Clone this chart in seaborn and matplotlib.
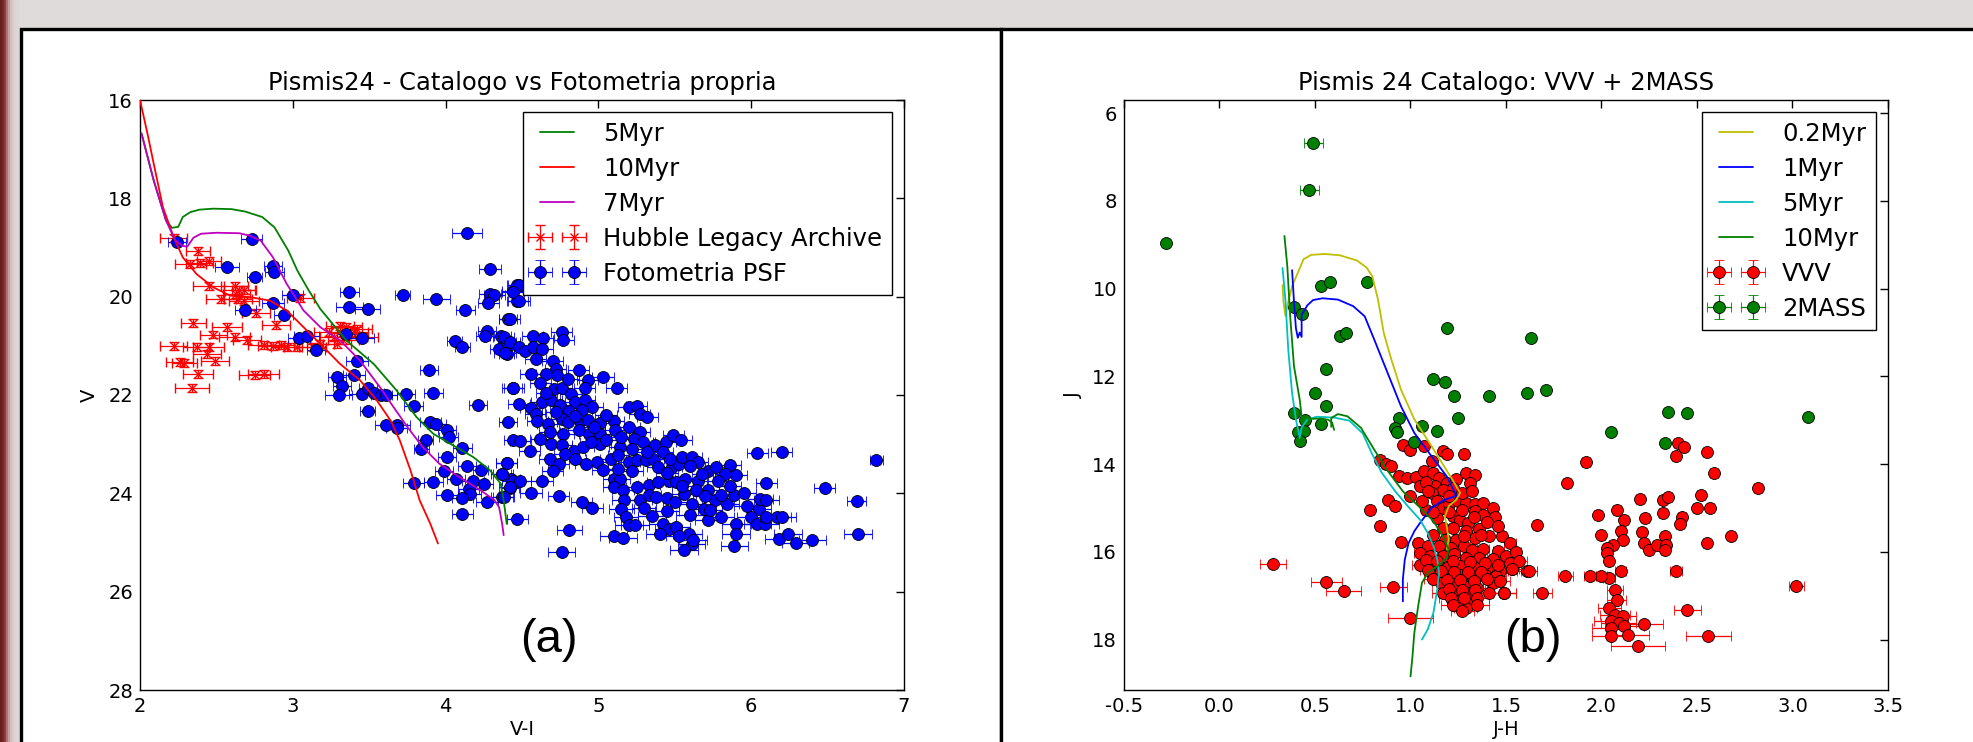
import numpy as np
import pandas as pd
import matplotlib
matplotlib.use("Agg")
import matplotlib.pyplot as plt
from matplotlib.patches import Rectangle
import seaborn as sns

# ---------------- data ----------------
# Left panel: isochrones (V-I, V)
iso5_left = [(2.01, 16.68), (2.09, 17.64), (2.17, 18.45), (2.21, 18.60), (2.25, 18.58), (2.28, 18.38),
             (2.33, 18.28), (2.39, 18.23), (2.48, 18.21), (2.60, 18.22), (2.69, 18.27), (2.80, 18.38),
             (2.88, 18.59), (2.97, 19.06), (3.03, 19.47), (3.10, 19.85), (3.18, 20.25), (3.35, 20.89),
             (3.53, 21.37), (3.68, 21.91), (3.81, 22.45), (3.92, 22.79), (4.03, 22.99), (4.18, 23.26),
             (4.29, 23.53), (4.36, 23.80), (4.38, 24.14), (4.40, 24.62)]
iso10_left = [(2.00, 16.00), (2.05, 16.70), (2.09, 17.30), (2.15, 18.18), (2.22, 18.79), (2.28, 19.20),
              (2.37, 19.54), (2.48, 19.81), (2.59, 19.98), (2.72, 20.01), (2.85, 20.08), (2.96, 20.28),
              (3.07, 20.62), (3.18, 20.96), (3.31, 21.37), (3.44, 21.70), (3.55, 22.11), (3.64, 22.52),
              (3.70, 22.92), (3.77, 23.53), (3.83, 24.14), (3.90, 24.62), (3.95, 25.02)]
iso7_left = [(2.01, 16.68), (2.09, 17.64), (2.17, 18.45), (2.23, 18.85), (2.28, 18.97), (2.31, 18.98),
             (2.35, 18.80), (2.40, 18.72), (2.50, 18.70), (2.65, 18.71), (2.72, 18.76), (2.79, 18.86),
             (2.87, 19.20), (2.96, 19.74), (3.07, 20.28), (3.18, 20.62), (3.31, 20.89), (3.44, 21.30),
             (3.57, 21.84), (3.66, 22.25), (3.75, 22.65), (3.85, 23.06), (3.96, 23.40), (4.09, 23.67),
             (4.23, 23.94), (4.32, 24.14), (4.35, 24.28), (4.37, 24.62), (4.38, 24.85)]

# Hubble Legacy Archive (V-I, V, err V-I)
hla_points = [(2.22, 18.80, 0.09), (2.38, 19.07, 0.08), (2.33, 19.33, 0.10), (2.39, 19.32, 0.09),
              (2.45, 19.28, 0.08), (2.45, 19.79, 0.10), (2.62, 19.79, 0.09), (2.65, 19.86, 0.10),
              (2.63, 19.94, 0.09), (2.68, 19.87, 0.08), (2.53, 20.04, 0.10), (2.64, 20.04, 0.09),
              (2.68, 20.08, 0.10), (2.76, 20.33, 0.09), (2.89, 20.57, 0.09), (3.05, 20.02, 0.09),
              (2.35, 20.54, 0.08), (2.57, 20.61, 0.10), (2.48, 20.77, 0.09), (2.62, 20.82, 0.10),
              (2.70, 20.88, 0.09), (2.22, 21.01, 0.09), (2.37, 21.03, 0.09), (2.45, 21.03, 0.10),
              (2.44, 21.16, 0.09), (2.81, 20.99, 0.10), (2.87, 21.01, 0.10), (2.92, 20.99, 0.09),
              (2.96, 21.03, 0.10), (3.03, 21.03, 0.09), (2.26, 21.33, 0.09), (2.29, 21.35, 0.08),
              (2.49, 21.30, 0.09), (2.38, 21.58, 0.10), (2.75, 21.60, 0.10), (2.81, 21.58, 0.10),
              (2.34, 21.85, 0.11), (3.31, 20.59, 0.09), (3.35, 20.62, 0.10), (3.42, 20.65, 0.10),
              (3.27, 20.82, 0.09), (3.46, 20.82, 0.10), (3.29, 20.96, 0.09), (3.40, 20.72, 0.09),
              (3.24, 20.72, 0.10), (3.33, 20.89, 0.10), (3.18, 20.96, 0.09), (3.13, 21.03, 0.09)]

# Fotometria PSF (V-I, V, err V-I)
psf_points = [
    (2.24, 18.89, 0.06), (2.73, 18.82, 0.07), (2.57, 19.39, 0.08), (2.75, 19.59, 0.05), (2.87, 19.37, 0.06),
    (2.88, 19.50, 0.06), (3.00, 19.96, 0.07), (2.87, 20.13, 0.07), (2.69, 20.28, 0.07), (2.94, 20.38, 0.06),
    (3.37, 19.91, 0.06), (3.37, 20.21, 0.09), (3.49, 20.25, 0.08), (3.72, 19.96, 0.05), (3.94, 20.04, 0.09),
    (4.14, 18.71, 0.10), (4.29, 19.43, 0.07), (4.13, 20.28, 0.06), (3.04, 20.84, 0.07), (3.09, 20.81, 0.08),
    (3.15, 21.08, 0.06), (3.35, 20.76, 0.06), (3.45, 20.85, 0.08), (3.42, 21.31, 0.07), (3.29, 21.64, 0.06),
    (3.32, 21.81, 0.06), (3.30, 22.01, 0.09), (3.40, 21.60, 0.07), (3.45, 21.97, 0.08), (3.49, 21.85, 0.06),
    (3.53, 21.96, 0.07), (3.58, 22.01, 0.07), (3.61, 21.99, 0.07), (3.74, 21.97, 0.06), (3.92, 21.96, 0.06),
    (3.49, 22.33, 0.05), (3.89, 21.49, 0.06), (3.79, 22.23, 0.06), (3.61, 22.62, 0.07), (3.68, 22.60, 0.09),
    (3.68, 22.67, 0.07), (3.90, 22.55, 0.07), (3.94, 22.58, 0.06), (4.01, 22.71, 0.06), (4.02, 22.86, 0.06),
    (3.87, 22.92, 0.05), (3.84, 23.09, 0.05), (4.01, 23.26, 0.06), (3.99, 23.55, 0.06), (4.11, 23.07, 0.06),
    (4.14, 23.44, 0.06), (4.23, 23.53, 0.05), (4.07, 23.70, 0.06), (4.18, 23.74, 0.07), (4.15, 23.91, 0.07),
    (4.16, 24.01, 0.07), (4.25, 23.82, 0.06), (3.92, 23.77, 0.06), (3.79, 23.79, 0.07), (4.01, 24.04, 0.07),
    (4.11, 24.09, 0.07), (4.27, 24.18, 0.07), (4.11, 24.43, 0.07), (4.37, 24.08, 0.07), (4.40, 23.38, 0.07),
    (4.37, 23.61, 0.06), (4.42, 23.89, 0.06), (4.43, 23.70, 0.06), (4.47, 24.52, 0.07), (4.21, 22.21, 0.06),
    (4.41, 20.45, 0.06), (4.27, 20.70, 0.06), (4.26, 20.81, 0.06), (4.06, 20.90, 0.05), (4.11, 21.03, 0.05),
    (4.36, 20.81, 0.07), (4.35, 21.06, 0.06), (4.40, 20.93, 0.06), (4.40, 21.16, 0.05), (4.43, 20.96, 0.06),
    (4.44, 21.85, 0.06), (4.41, 22.54, 0.06), (4.44, 22.92, 0.06), (4.29, 19.94, 0.07), (4.32, 19.96, 0.07),
    (4.28, 20.13, 0.07), (4.44, 19.89, 0.07), (4.47, 19.77, 0.07), (4.47, 20.08, 0.07),
    (4.48, 19.77, 0.07), (4.44, 19.91, 0.07), (4.48, 20.09, 0.07), (4.42, 20.46, 0.07), (4.38, 20.82, 0.07),
    (4.42, 20.92, 0.07), (4.48, 21.03, 0.07), (4.39, 21.15, 0.07), (4.52, 21.11, 0.07), (4.57, 20.81, 0.07),
    (4.64, 20.84, 0.07), (4.57, 21.03, 0.07), (4.63, 21.06, 0.07), (4.76, 20.72, 0.07), (4.77, 20.89, 0.07),
    (4.59, 21.26, 0.07), (4.70, 21.30, 0.07), (4.72, 21.47, 0.07), (4.56, 21.57, 0.07), (4.66, 21.58, 0.07),
    (4.73, 21.60, 0.07), (4.62, 21.76, 0.07), (4.71, 21.87, 0.07), (4.76, 21.85, 0.07), (4.87, 21.49, 0.07),
    (4.80, 21.67, 0.07), (4.93, 21.69, 0.07), (4.91, 21.85, 0.07), (5.03, 21.64, 0.07), (5.12, 21.85, 0.07),
    (4.44, 21.85, 0.07), (4.48, 22.19, 0.07), (4.56, 22.26, 0.07), (4.63, 22.14, 0.07), (4.69, 22.10, 0.07),
    (4.75, 22.21, 0.07), (4.82, 21.97, 0.07), (4.85, 22.14, 0.07), (4.91, 22.11, 0.07), (4.96, 22.25, 0.07),
    (4.81, 22.33, 0.07), (4.89, 22.31, 0.07), (4.59, 22.38, 0.07), (4.60, 22.53, 0.07), (4.67, 22.58, 0.07),
    (4.76, 22.48, 0.07), (4.88, 22.53, 0.07), (4.93, 22.50, 0.07), (5.01, 22.57, 0.07), (5.10, 22.53, 0.07),
    (5.20, 22.25, 0.07), (5.25, 22.23, 0.07), (5.27, 22.39, 0.07), (5.32, 22.45, 0.07), (4.68, 22.75, 0.07),
    (4.77, 22.79, 0.07), (4.87, 22.72, 0.07), (4.94, 22.79, 0.07), (5.01, 22.79, 0.07), (5.11, 22.72, 0.07),
    (5.20, 22.65, 0.07), (5.27, 22.75, 0.07), (4.69, 22.99, 0.07), (4.76, 23.02, 0.07), (4.84, 23.13, 0.07),
    (4.90, 23.06, 0.07), (5.01, 22.99, 0.07), (5.05, 22.92, 0.07), (5.14, 23.06, 0.07), (5.23, 22.89, 0.07),
    (5.29, 22.96, 0.07), (5.37, 23.02, 0.07), (5.44, 22.96, 0.07), (5.49, 22.82, 0.07), (5.54, 22.91, 0.07),
    (4.49, 22.94, 0.07), (4.55, 23.14, 0.07), (4.68, 23.30, 0.07), (4.74, 23.40, 0.07), (4.85, 23.30, 0.07),
    (4.92, 23.40, 0.07), (4.99, 23.36, 0.07), (5.08, 23.30, 0.07), (5.13, 23.23, 0.07), (5.20, 23.36, 0.07),
    (5.25, 23.33, 0.07), (5.31, 23.33, 0.07), (5.36, 23.30, 0.07), (4.40, 23.38, 0.07), (5.39, 23.46, 0.07),
    (5.48, 23.46, 0.07), (5.53, 23.40, 0.07), (5.55, 23.26, 0.07), (5.61, 23.27, 0.07), (5.65, 23.36, 0.07),
    (5.72, 23.55, 0.07), (5.77, 23.46, 0.07), (5.86, 23.43, 0.07), (5.90, 23.63, 0.07), (5.83, 23.60, 0.07),
    (6.04, 23.18, 0.07), (6.20, 23.16, 0.07), (6.82, 23.32, 0.04), (4.37, 23.60, 0.07), (4.44, 23.74, 0.07),
    (4.49, 23.74, 0.07), (4.63, 23.74, 0.07), (4.42, 23.88, 0.07), (4.56, 23.99, 0.07), (4.38, 24.07, 0.07),
    (4.74, 24.06, 0.07), (4.89, 24.18, 0.07), (4.96, 24.29, 0.07), (5.10, 23.70, 0.07), (5.14, 23.70, 0.07),
    (5.10, 23.87, 0.07), (5.16, 23.94, 0.07), (5.25, 23.88, 0.07), (5.33, 23.84, 0.07), (5.39, 23.77, 0.07),
    (5.46, 23.74, 0.07), (5.51, 23.77, 0.07), (5.57, 23.70, 0.07), (5.65, 23.74, 0.07), (5.72, 23.94, 0.07),
    (5.64, 23.94, 0.07), (5.17, 24.14, 0.08), (5.27, 24.14, 0.08), (5.33, 24.04, 0.08), (5.38, 24.07, 0.08),
    (5.45, 24.09, 0.08), (5.50, 24.18, 0.08), (5.56, 24.01, 0.08), (5.61, 24.21, 0.08), (5.69, 24.31, 0.08),
    (5.76, 24.14, 0.08), (5.84, 24.21, 0.08), (5.89, 24.04, 0.08), (5.97, 24.26, 0.08), (6.05, 24.31, 0.08),
    (6.06, 24.11, 0.08), (6.10, 24.13, 0.08), (5.15, 24.31, 0.08), (5.18, 24.48, 0.08), (5.20, 24.65, 0.09),
    (5.24, 24.65, 0.09), (5.35, 24.47, 0.09), (5.42, 24.62, 0.09), (5.46, 24.72, 0.09), (5.51, 24.69, 0.09),
    (5.59, 24.82, 0.09), (5.53, 24.87, 0.09), (5.61, 25.04, 0.09), (5.56, 25.16, 0.09), (5.40, 24.83, 0.09),
    (5.72, 24.55, 0.09), (5.80, 24.48, 0.09), (5.90, 24.62, 0.09), (5.90, 24.83, 0.09), (5.89, 25.08, 0.09),
    (6.00, 24.48, 0.09), (6.04, 24.62, 0.09), (6.09, 24.62, 0.09), (6.10, 24.48, 0.09), (6.17, 24.48, 0.09),
    (6.20, 24.49, 0.09), (6.10, 23.79, 0.07), (6.48, 23.90, 0.07), (6.69, 24.16, 0.06), (6.70, 24.83, 0.09),
    (6.18, 24.92, 0.09), (6.24, 24.82, 0.09), (6.29, 25.01, 0.09), (6.40, 24.94, 0.09), (5.10, 24.87, 0.09),
    (5.16, 24.90, 0.09), (4.81, 24.74, 0.08), (4.76, 25.19, 0.09), (5.62, 24.94, 0.09), (5.73, 24.33, 0.08),
    (5.80, 24.04, 0.08),
    (4.66, 21.95, 0.07), (4.72, 22.35, 0.07), (4.80, 22.55, 0.07), (4.85, 22.42, 0.07), (4.97, 22.65, 0.07),
    (5.05, 22.40, 0.07), (5.15, 22.85, 0.07), (5.22, 23.10, 0.07), (5.32, 23.15, 0.07), (5.42, 23.15, 0.07),
    (5.47, 23.30, 0.07), (5.60, 23.45, 0.07), (5.68, 23.60, 0.07), (5.78, 23.75, 0.07), (5.86, 23.85, 0.07),
    (5.95, 24.00, 0.08), (5.03, 23.52, 0.07), (5.13, 23.50, 0.07), (5.22, 23.55, 0.07), (5.45, 23.58, 0.07),
    (5.55, 23.85, 0.07), (5.70, 24.05, 0.08), (5.30, 24.30, 0.08), (5.45, 24.35, 0.08), (5.60, 24.45, 0.09),
    (4.78, 23.20, 0.07), (4.62, 22.90, 0.07), (4.95, 22.95, 0.07), (4.70, 23.55, 0.07)]

# Right panel: isochrones (J-H, J)
iso02_right = [(0.33, 9.92), (0.335, 10.30), (0.345, 10.62), (0.36, 10.30), (0.38, 9.95), (0.41, 9.64),
               (0.44, 9.33), (0.48, 9.23), (0.55, 9.21), (0.63, 9.24), (0.72, 9.36), (0.77, 9.52),
               (0.80, 9.72), (0.83, 10.25), (0.86, 11.01), (0.90, 11.62), (0.95, 12.30), (1.02, 12.98),
               (1.11, 13.59), (1.18, 14.08), (1.23, 14.43), (1.26, 14.66), (1.24, 14.81), (1.20, 14.96),
               (1.18, 15.19), (1.19, 15.42), (1.20, 15.72), (1.19, 15.95)]
iso1_right = [(0.38, 9.58), (0.39, 10.30), (0.40, 10.90), (0.41, 11.12), (0.42, 11.00), (0.43, 11.10),
              (0.43, 10.60), (0.46, 10.38), (0.49, 10.26), (0.54, 10.22), (0.62, 10.25), (0.70, 10.40),
              (0.76, 10.63), (0.81, 11.16), (0.88, 11.92), (0.95, 12.68), (1.02, 13.29), (1.11, 13.82),
              (1.19, 14.28), (1.24, 14.72), (1.17, 14.83), (1.11, 15.00), (1.05, 15.34), (1.02, 15.53),
              (0.99, 15.80), (0.97, 16.18), (0.96, 16.63), (0.96, 17.13)]
iso5_right = [(0.33, 9.53), (0.345, 10.25), (0.36, 11.39), (0.38, 12.38), (0.40, 12.98), (0.42, 13.40),
              (0.43, 13.17), (0.46, 12.98), (0.51, 12.92), (0.60, 12.94), (0.68, 13.01), (0.75, 13.30),
              (0.80, 13.78), (0.85, 14.20), (0.92, 14.62), (0.99, 14.98), (1.05, 15.27), (1.09, 15.57),
              (1.12, 15.87), (1.14, 16.18), (1.15, 16.48), (1.14, 16.86), (1.12, 17.39), (1.09, 17.77),
              (1.06, 18.00)]
iso10_right_a = [(0.34, 8.80), (0.355, 9.49), (0.37, 10.63), (0.39, 11.77), (0.42, 12.53), (0.43, 12.92),
                 (0.47, 12.97), (0.53, 12.96), (0.57, 12.99), (0.59, 13.06), (0.60, 13.22)]
iso10_right_b = [(0.585, 13.15), (0.585, 12.95), (0.62, 12.86), (0.67, 12.91), (0.74, 13.17), (0.81, 13.67),
                 (0.88, 14.15), (0.96, 14.62), (1.04, 14.95), (1.12, 15.30), (1.17, 15.65), (1.20, 15.95),
                 (1.19, 16.14), (1.14, 16.33), (1.09, 16.48), (1.06, 16.71), (1.04, 17.24), (1.02, 17.85),
                 (1.01, 18.40), (1.00, 18.84)]

# VVV (J-H, J, err J-H)
vvv_points = [
    (0.96, 13.56, 0.02), (1.00, 13.69, 0.02), (1.07, 13.58, 0.02), (1.17, 13.71, 0.02), (1.19, 13.76, 0.02),
    (1.28, 13.78, 0.02), (0.84, 13.91, 0.02), (0.87, 13.99, 0.02), (0.90, 14.05, 0.02), (0.94, 14.28, 0.02),
    (0.98, 14.32, 0.02), (1.03, 14.29, 0.02), (1.05, 14.51, 0.02), (1.07, 14.16, 0.02), (1.11, 13.94, 0.02),
    (1.12, 14.20, 0.02), (1.15, 14.32, 0.02), (1.19, 14.43, 0.02), (1.24, 14.35, 0.02), (1.29, 14.20, 0.02),
    (1.34, 14.24, 0.02), (1.31, 14.43, 0.02), (1.13, 14.51, 0.02), (1.17, 14.58, 0.02), (1.00, 14.72, 0.02),
    (1.11, 14.66, 0.02), (0.88, 14.81, 0.02), (0.92, 14.95, 0.02), (0.79, 15.04, 0.02), (0.84, 15.42, 0.02),
    (1.14, 14.85, 0.02), (1.17, 15.00, 0.02), (1.20, 14.92, 0.02), (1.25, 14.85, 0.02), (1.29, 14.89, 0.02),
    (1.34, 14.92, 0.02), (1.38, 14.89, 0.02), (1.43, 15.00, 0.02), (1.34, 15.08, 0.02), (1.44, 15.21, 0.02),
    (1.38, 15.15, 0.02), (1.14, 15.22, 0.02), (1.22, 15.19, 0.02), (1.26, 15.27, 0.02), (1.30, 15.34, 0.02),
    (1.17, 15.46, 0.02), (1.22, 15.46, 0.02), (1.29, 15.53, 0.02), (1.36, 15.48, 0.02), (1.41, 15.65, 0.02),
    (1.48, 15.65, 0.02), (1.34, 15.68, 0.02), (1.18, 15.72, 0.02), (1.24, 15.72, 0.02), (0.95, 15.78, 0.02),
    (1.04, 15.80, 0.02), (1.09, 15.87, 0.03), (1.15, 15.87, 0.03), (1.21, 15.91, 0.03), (1.28, 15.87, 0.03),
    (1.32, 15.95, 0.03), (1.38, 15.94, 0.03), (1.46, 15.99, 0.03), (1.05, 16.03, 0.03), (1.10, 16.10, 0.03),
    (1.17, 16.10, 0.03), (1.23, 16.06, 0.03), (1.29, 16.14, 0.03), (1.36, 16.14, 0.03), (1.43, 16.16, 0.03),
    (1.50, 16.09, 0.03), (1.05, 16.29, 0.04), (1.13, 16.29, 0.04), (1.19, 16.37, 0.04), (1.26, 16.33, 0.04),
    (1.33, 16.34, 0.04), (1.40, 16.37, 0.04), (1.47, 16.44, 0.04), (1.53, 16.39, 0.05), (1.61, 16.44, 0.05),
    (1.12, 16.52, 0.05), (1.19, 16.56, 0.05), (1.26, 16.52, 0.05), (1.32, 16.56, 0.05), (1.39, 16.52, 0.05),
    (1.45, 16.54, 0.05), (1.16, 16.71, 0.05), (1.22, 16.73, 0.05), (1.28, 16.79, 0.05), (1.35, 16.82, 0.05),
    (1.43, 16.71, 0.05), (1.17, 16.95, 0.06), (1.24, 16.98, 0.06), (1.30, 16.95, 0.06), (1.41, 16.94, 0.06),
    (1.49, 16.95, 0.06), (1.25, 17.13, 0.06), (1.31, 17.18, 0.06), (1.29, 17.28, 0.06), (0.56, 16.69, 0.08),
    (0.65, 16.90, 0.09), (0.91, 16.81, 0.07), (1.00, 17.52, 0.12), (0.28, 16.27, 0.07),
    (1.08, 15.05, 0.02), (1.12, 15.10, 0.02), (1.20, 15.10, 0.02), (1.27, 15.05, 0.02), (1.33, 15.20, 0.02),
    (1.40, 15.32, 0.02), (1.46, 15.42, 0.02), (1.37, 15.62, 0.02), (1.28, 15.63, 0.02), (1.12, 15.62, 0.02),
    (1.08, 16.18, 0.03), (1.14, 16.20, 0.03), (1.22, 16.22, 0.03), (1.31, 16.24, 0.03), (1.39, 16.26, 0.04),
    (1.46, 16.29, 0.04), (1.52, 16.25, 0.04), (1.09, 16.42, 0.04), (1.16, 16.44, 0.04), (1.23, 16.45, 0.04),
    (1.30, 16.45, 0.04), (1.37, 16.45, 0.04), (1.12, 16.63, 0.05), (1.19, 16.65, 0.05), (1.26, 16.64, 0.05),
    (1.33, 16.66, 0.05), (1.40, 16.62, 0.05), (1.47, 16.66, 0.05), (1.20, 16.85, 0.05), (1.27, 16.88, 0.05),
    (1.34, 16.88, 0.05), (1.21, 17.05, 0.06), (1.28, 17.05, 0.06), (1.35, 17.05, 0.06), (1.22, 17.22, 0.06),
    (1.35, 17.22, 0.06), (1.27, 17.35, 0.06), (1.52, 15.80, 0.03), (1.55, 16.00, 0.03), (1.57, 16.20, 0.04),
    (1.08, 14.40, 0.02), (1.22, 14.55, 0.02), (1.27, 14.65, 0.02), (1.32, 14.62, 0.02), (1.20, 14.72, 0.02),
    (1.06, 14.85, 0.02), (1.09, 14.62, 0.02),
    (1.92, 13.96, 0.02), (1.82, 14.43, 0.02), (1.66, 15.39, 0.02), (1.98, 15.16, 0.02), (2.00, 15.61, 0.02),
    (2.08, 15.05, 0.02), (2.12, 15.27, 0.02), (2.10, 15.53, 0.02), (2.11, 15.72, 0.02), (2.06, 15.84, 0.02),
    (2.03, 15.91, 0.02), (2.03, 16.03, 0.02), (2.04, 16.22, 0.02), (2.20, 14.79, 0.02), (2.23, 15.24, 0.02),
    (2.21, 15.55, 0.02), (2.22, 15.81, 0.02), (2.25, 15.96, 0.02), (2.29, 15.84, 0.02), (2.32, 14.81, 0.02),
    (2.35, 14.76, 0.02), (2.32, 15.11, 0.02), (2.33, 15.65, 0.02), (2.34, 15.84, 0.02), (2.33, 15.96, 0.02),
    (2.42, 15.20, 0.02), (2.41, 15.36, 0.02), (2.40, 13.52, 0.02), (2.43, 13.62, 0.02), (2.39, 13.82, 0.02),
    (2.55, 13.73, 0.02), (2.59, 14.20, 0.02), (2.52, 14.70, 0.02), (2.50, 15.00, 0.02), (2.57, 15.00, 0.02),
    (2.55, 15.81, 0.02), (2.68, 15.65, 0.02), (2.82, 14.54, 0.02), (3.02, 16.79, 0.04), (2.39, 16.44, 0.03),
    (2.10, 16.44, 0.03), (2.04, 16.60, 0.03), (2.00, 16.54, 0.03), (1.94, 16.54, 0.03), (1.81, 16.56, 0.04),
    (1.62, 16.44, 0.04), (1.53, 16.39, 0.04), (1.49, 16.95, 0.06), (1.69, 16.95, 0.05), (2.07, 16.88, 0.04),
    (2.08, 17.10, 0.05), (2.04, 17.28, 0.06), (2.07, 17.45, 0.08), (2.11, 17.47, 0.07), (2.05, 17.58, 0.09),
    (2.09, 17.62, 0.09), (2.12, 17.70, 0.10), (2.05, 17.73, 0.10), (2.05, 17.93, 0.10), (2.14, 17.89, 0.11),
    (2.22, 17.64, 0.10), (2.19, 18.15, 0.14), (2.45, 17.33, 0.07), (2.56, 17.93, 0.12)]

# 2MASS (J-H, J, err J-H)
tmass_points = [
    (0.49, 6.69, 0.05), (0.47, 7.76, 0.05), (-0.28, 8.97, 0.01), (0.53, 9.95, 0.01), (0.58, 9.85, 0.01),
    (0.77, 9.85, 0.01), (0.39, 10.42, 0.01), (0.43, 10.57, 0.01), (0.63, 11.07, 0.01), (0.66, 11.01, 0.01),
    (1.19, 10.90, 0.01), (0.56, 11.83, 0.01), (1.12, 12.07, 0.01), (1.18, 12.13, 0.01), (1.23, 12.44, 0.01),
    (1.41, 12.44, 0.01), (1.61, 12.39, 0.01), (1.71, 12.31, 0.01), (1.63, 11.13, 0.01), (0.50, 12.38, 0.01),
    (0.56, 12.67, 0.01), (0.39, 12.83, 0.01), (0.45, 13.00, 0.01), (0.53, 13.08, 0.01), (0.41, 13.27, 0.01),
    (0.44, 13.25, 0.01), (0.42, 13.48, 0.01), (0.94, 12.95, 0.01), (0.92, 13.17, 0.01), (0.93, 13.27, 0.01),
    (1.06, 13.14, 0.01), (1.14, 13.25, 0.01), (1.25, 12.95, 0.01), (1.02, 13.50, 0.01), (2.35, 12.82, 0.01),
    (2.45, 12.84, 0.01), (3.08, 12.93, 0.01), (2.05, 13.26, 0.01), (2.33, 13.52, 0.01)]

left_title = "Pismis24 - Catalogo vs Fotometria propria"
right_title = "Pismis 24 Catalogo: VVV + 2MASS"
left_xticks = [2, 3, 4, 5, 6, 7]
left_yticks = [16, 18, 20, 22, 24, 26, 28]
right_xticks = [-0.5, 0.0, 0.5, 1.0, 1.5, 2.0, 2.5, 3.0, 3.5]
right_yticks = [6, 8, 10, 12, 14, 16, 18]

# ---------------- styling ----------------
sns.set_theme(style="white")
plt.rcParams["font.family"] = ["DejaVu Sans"]
plt.rcParams["axes.unicode_minus"] = True
plt.rcParams["text.color"] = "black"
plt.rcParams["axes.labelcolor"] = "black"
plt.rcParams["xtick.color"] = "black"
plt.rcParams["ytick.color"] = "black"

W, H = 1974, 742
fig = plt.figure(figsize=(W / 100, H / 100), dpi=100)
fig.patch.set_facecolor((0.875, 0.86, 0.855))

# blurred slide background strip on the left
bg = fig.add_axes([0, 0, 22 / W, 1], zorder=-10)
grad = np.array([[(0.40, 0.12, 0.12), (0.45, 0.15, 0.15), (0.55, 0.25, 0.25), (0.68, 0.45, 0.45),
                  (0.78, 0.62, 0.62), (0.84, 0.74, 0.74), (0.86, 0.80, 0.80), (0.87, 0.83, 0.83),
                  (0.87, 0.84, 0.84), (0.87, 0.85, 0.85), (0.875, 0.86, 0.855)]])
bg.imshow(grad, aspect="auto", extent=(0, 1, 0, 1))
bg.set_axis_off()

# white panels with black frames
top = 1 - 29 / H
fig.add_artist(Rectangle((21 / W, -0.1), (1001 - 21) / W, top + 0.1, transform=fig.transFigure,
                         facecolor="white", edgecolor="black", lw=2.4, zorder=-2))
fig.add_artist(Rectangle((1001 / W, -0.1), 1.0, top + 0.1, transform=fig.transFigure,
                         facecolor="white", edgecolor="black", lw=2.4, zorder=-2))

ax_l = fig.add_axes([140 / W, 1 - 690 / H, 764 / W, 590 / H])
ax_r = fig.add_axes([1124 / W, 1 - 690 / H, 764 / W, 590 / H])


def df(pts, cols):
    return pd.DataFrame(pts, columns=cols)


def iso(ax, pts, color, label=None):
    d = df(pts, ["x", "y"])
    sns.lineplot(data=d, x="x", y="y", sort=False, estimator=None, color=color, lw=1.3,
                 ax=ax, label=label, zorder=4, legend=False)


eb_kw = dict(linestyle="none", elinewidth=0.9, capsize=3.5, capthick=0.9, markeredgecolor="black",
             markeredgewidth=0.6, markersize=8.6)

# ---- left panel ----
iso(ax_l, iso5_left, (0, 0.5, 0), "5Myr")
iso(ax_l, iso10_left, (1, 0, 0), "10Myr")
iso(ax_l, iso7_left, (0.75, 0, 0.75), "7Myr")
h = df(hla_points, ["vi", "v", "e"])
ax_l.errorbar(h["vi"], h["v"], xerr=h["e"], yerr=0.08, fmt="x", color="red", ecolor="red",
              linestyle="none", elinewidth=0.9, capsize=3.5, capthick=0.9, markersize=6,
              markeredgewidth=1.0, label="Hubble Legacy Archive", zorder=2)
p = df(psf_points, ["vi", "v", "e"])
ax_l.errorbar(p["vi"], p["v"], xerr=p["e"], yerr=0.03, fmt="o", color="blue", ecolor="blue",
              markerfacecolor="blue", label="Fotometria PSF", zorder=2, **eb_kw)
ax_l.set_xlim(2, 7)
ax_l.set_ylim(28, 16)
ax_l.set_xticks(left_xticks)
ax_l.set_yticks(left_yticks)
ax_l.set_title(left_title, fontsize=17.5, pad=7, color="black")
ax_l.set_xlabel("V-I", fontsize=14, labelpad=3)
ax_l.set_ylabel("V", fontsize=14, labelpad=7)
ax_l.text(0.535, 0.085, "(a)", transform=ax_l.transAxes, ha="center", va="center",
          fontsize=34, color="black", family=["Liberation Sans", "DejaVu Sans"])

# ---- right panel ----
iso(ax_r, iso02_right, (0.75, 0.75, 0), "0.2Myr")
iso(ax_r, iso1_right, (0, 0, 1), "1Myr")
iso(ax_r, iso5_right, (0, 0.75, 0.75), "5Myr")
iso(ax_r, iso10_right_a, (0, 0.5, 0), "10Myr")
iso(ax_r, iso10_right_b, (0, 0.5, 0), None)
v = df(vvv_points, ["jh", "j", "e"])
ax_r.errorbar(v["jh"], v["j"], xerr=v["e"], yerr=0.03, fmt="o", color="red", ecolor="red",
              markerfacecolor="red", label="VVV", zorder=2, **eb_kw)
t = df(tmass_points, ["jh", "j", "e"])
ax_r.errorbar(t["jh"], t["j"], xerr=t["e"], yerr=0.02, fmt="o", color=(0, 0.5, 0),
              ecolor=(0, 0.5, 0), markerfacecolor=(0, 0.5, 0), label="2MASS", zorder=3, **eb_kw)
ax_r.set_xlim(-0.5, 3.5)
ax_r.set_ylim(19.15, 5.7)
ax_r.set_xticks(right_xticks)
ax_r.set_yticks(right_yticks)
ax_r.set_title(right_title, fontsize=17.5, pad=7, color="black")
ax_r.set_xlabel("J-H", fontsize=14, labelpad=3)
ax_r.set_ylabel("J", fontsize=14, labelpad=7)
ax_r.text(0.535, 0.085, "(b)", transform=ax_r.transAxes, ha="center", va="center",
          fontsize=34, color="black", family=["Liberation Sans", "DejaVu Sans"])

for ax in (ax_l, ax_r):
    ax.set_facecolor("white")
    for s in ax.spines.values():
        s.set_color("black")
        s.set_linewidth(1.0)
        s.set_visible(True)
    ax.tick_params(direction="in", length=6, width=1, colors="black", top=True, right=True,
                   labelsize=14, pad=5)
    leg = ax.legend(loc="upper right", numpoints=2, fontsize=17.5, frameon=True, fancybox=False,
                    edgecolor="black", framealpha=1, borderpad=0.4, labelspacing=0.45,
                    handlelength=2.0, handletextpad=0.9, borderaxespad=0.5)
    leg.get_frame().set_linewidth(1.0)
    for txt in leg.get_texts():
        txt.set_color("black")

ax_l.xaxis.set_major_formatter(matplotlib.ticker.FormatStrFormatter("%d"))
ax_r.xaxis.set_major_formatter(matplotlib.ticker.FormatStrFormatter("%.1f"))

fig.savefig("out.png", dpi=100, facecolor=fig.get_facecolor())
